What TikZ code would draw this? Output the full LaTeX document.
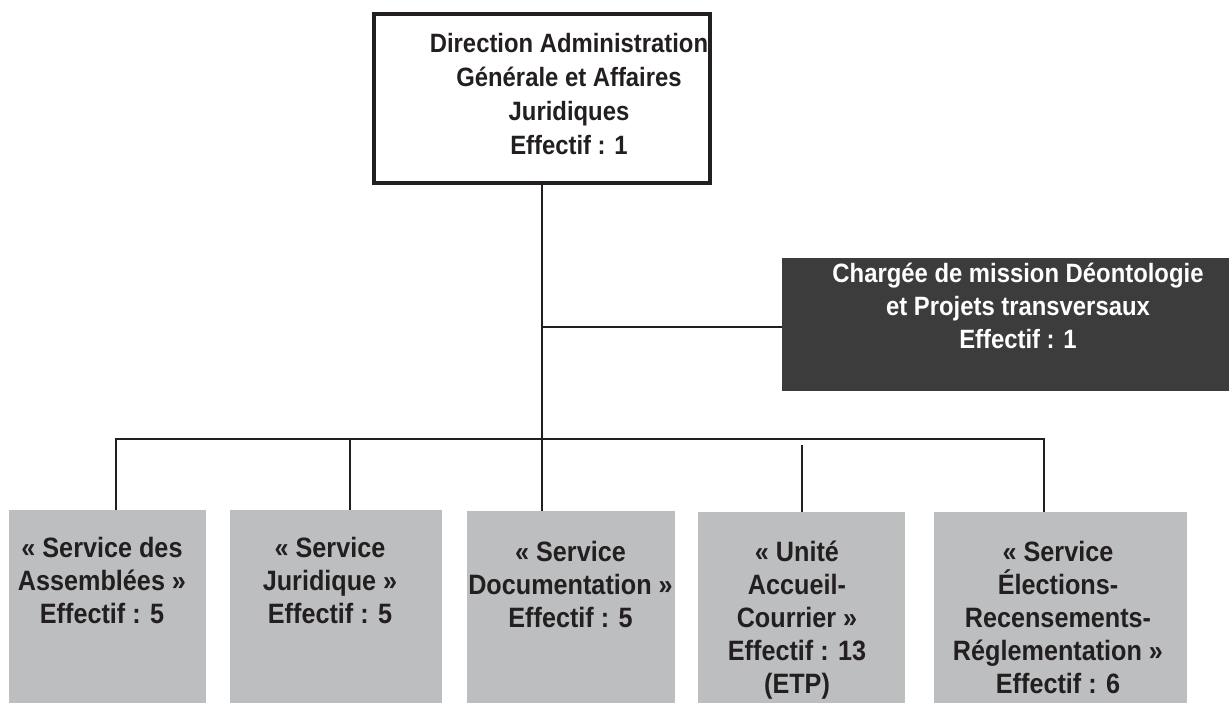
\documentclass[tikz,border=0pt]{standalone}
\usepackage{fontspec}
\setmainfont{Liberation Sans}[FakeStretch=0.9]
\definecolor{ink}{HTML}{231F20}
\definecolor{boxgray}{HTML}{BDBEC0}
\definecolor{boxdark}{HTML}{3C3C3C}
\begin{document}
\begin{tikzpicture}[x=1pt,y=-1pt,
  conn/.style={draw=ink,line width=1.6pt},
  headbox/.style={draw=ink,line width=4pt,fill=white,minimum width=336pt,minimum height=169pt,inner sep=0},
  darkbox/.style={fill=boxdark,minimum width=447pt,minimum height=133pt,inner sep=0},
  unitbox/.style={fill=boxgray,inner sep=0},
  headtxt/.style={anchor=north,inner sep=0,align=center,text=ink,font=\bfseries\fontsize{26.5}{34}\selectfont},
  darktxt/.style={anchor=north,inner sep=0,align=center,text=white,font=\bfseries\fontsize{26.5}{33}\selectfont},
  unittxt/.style={anchor=north,inner sep=0,align=center,text=ink,font=\bfseries\fontsize{28}{33}\selectfont}]
\useasboundingbox (0,0) rectangle (1229,702);

% boxes
\node[headbox] (top) at (542,98.5) {};
\node[darkbox] (dark) at (1005.5,324.5) {};
\node[unitbox,minimum width=197pt,minimum height=200pt,anchor=north west] (b1) at (9,510) {};
\node[unitbox,minimum width=212pt,minimum height=200pt,anchor=north west] (b2) at (230,510) {};
\node[unitbox,minimum width=208pt,minimum height=200pt,anchor=north west] (b3) at (467,511) {};
\node[unitbox,minimum width=207pt,minimum height=200pt,anchor=north west] (b4) at (698,512) {};
\node[unitbox,minimum width=253pt,minimum height=200pt,anchor=north west] (b5) at (934,512) {};

% texts
\node[headtxt] (ttop) at (569,33) {Direction Administration\\Générale et Affaires\\Juridiques\\Effectif : 1};
\node[darktxt] (tdark) at (1018,263) {Chargée de mission Déontologie\\et Projets transversaux\\Effectif : 1};
\node[unittxt] (t1) at (102,537) {« Service des\\Assemblées »\\Effectif : 5};
\node[unittxt] (t2) at (330,537) {« Service\\Juridique »\\Effectif : 5};
\node[unittxt] (t3) at (570.5,541) {« Service\\Documentation »\\Effectif : 5};
\node[unittxt] (t4) at (797,541) {« Unité\\Accueil-\\Courrier »\\Effectif : 13\\(ETP)};
\node[unittxt] (t5) at (1058,541) {« Service\\Élections-\\Recensements-\\Réglementation »\\Effectif : 6};

% connectors
\coordinate (busL) at (116,439);
\coordinate (busR) at (1044,439);
\coordinate (d2) at (350,439);
\coordinate (d4) at (802,445);
\draw[conn] (top.south) -- (top.south |- b3.north);
\draw[conn] (top.south |- 0,327) -- (dark.west |- 0,327);
\draw[conn] (busL |- b1.north) -- (busL) -- (busR) -- (busR |- b5.north);
\draw[conn] (d2) -- (d2 |- b2.north);
\draw[conn] (d4) -- (d4 |- b4.north);
\end{tikzpicture}
\end{document}
